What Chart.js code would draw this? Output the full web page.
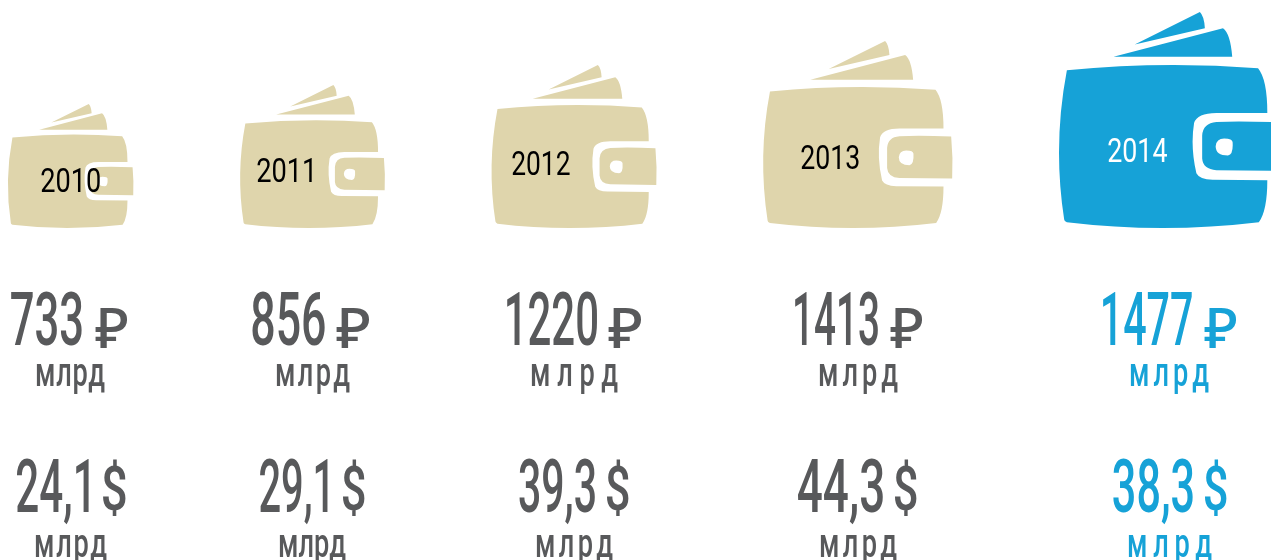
<!DOCTYPE html>
<html>
<head>
<meta charset="utf-8">
<style>
  html, body { margin: 0; padding: 0; background: #fff; overflow: hidden; }
  canvas { display: block; }
</style>
<script src="https://cdn.jsdelivr.net/npm/chart.js@4"></script>
</head>
<body>
<canvas id="walletChart" width="1271" height="560"></canvas>
<script>
// data
const years = ["2010", "2011", "2012", "2013", "2014"];
const rubValues = [733, 856, 1220, 1413, 1477];
const usdValues = [24.1, 29.1, 39.3, 44.3, 38.3];
// the icons grow by rank, not in proportion to the sums: height of each icon
const walletHeights = [124, 143, 163, 187, 216];
const unitLabel = "млрд";

// layout: ink extents [left, right] of the texts in each column
const yearX = [[41, 100], [257, 312], [512, 570], [801, 859], [1108, 1167]];
const yearBase = [192, 182, 175, 169, 162];
const rubX = [[11, 82], [252, 325], [507, 597], [795, 878], [1103, 1192]];
const rubSignX = [[95, 128], [336, 370], [608, 642], [890, 923], [1204, 1237]];
const rubUnitX = [[35, 105], [275, 350], [530, 618], [818, 898], [1129, 1209]];
const usdX = [[17, 89], [260, 328], [519, 595], [798, 883], [1113, 1193]];
const usdSignX = [[103, 126], [343, 365], [607, 629], [895, 917], [1205, 1227]];
const usdUnitX = [[34, 107], [278, 346], [535, 613], [819, 897], [1127, 1212]];

const BEIGE = "#dfd5ac";
const BLUE = "#16a2d7";
const GREY = "#58595b";
const highlightIndex = 4;
const WALLET_RATIO = 1.01;
const WALLET_GAP = 107;
const FIRST_LEFT = 8;
const BASELINE = 228;

// wallet outline, drawn in a 566x560 box
const walletBody = new Path2D(
  "M92 181 Q340 157 588 176 Q612 205 612 292 L480 292 Q430 292 422 318 Q412 380 428 448 " +
  "Q436 464 470 465 L612 466 Q612 545 590 575 Q340 605 92 575 Q85 572 85 568 Q55 375 92 181 Z " +
  "M635 316 Q540 312 480 315 Q445 318 443 350 L443 410 Q445 438 480 440 L638 442 Q641 380 635 316 Z " +
  "M478 378 Q480 358 500 358 Q522 358 522 368 Q524 400 510 402 Q478 402 478 378 Z " +
  "M268 114 L437 30 Q448 40 450 72 Z " +
  "M213 146 L497 72 Q516 85 521 146 Z"
);

function walletCenters() {
  let left = FIRST_LEFT;
  return walletHeights.map(h => {
    const w = h * WALLET_RATIO;
    const center = left + w / 2;
    left += w + WALLET_GAP;
    return center;
  });
}

// squeeze a text horizontally so that its ink spans x0..x1
function fitText(ctx, text, x0, x1, base, font, color) {
  ctx.save();
  ctx.font = font;
  ctx.fillStyle = color;
  ctx.textAlign = "left";
  ctx.textBaseline = "alphabetic";
  const m = ctx.measureText(text);
  const ink = m.actualBoundingBoxRight + m.actualBoundingBoxLeft;
  const sx = (x1 - x0) / ink;
  ctx.translate(x0 + m.actualBoundingBoxLeft * sx, base);
  ctx.scale(sx, 1);
  ctx.fillText(text, 0, 0);
  ctx.restore();
}

// fixed squeeze, the letters are spread out to fill x0..x1
function spreadText(ctx, text, x0, x1, base, font, color) {
  const sx = 0.68;
  ctx.save();
  ctx.font = font;
  ctx.fillStyle = color;
  ctx.textBaseline = "alphabetic";
  ctx.letterSpacing = "0px";
  const natural = ctx.measureText(text).width;
  const ls = ((x1 - x0) / sx - natural) / (text.length - 1);
  ctx.letterSpacing = ls.toFixed(2) + "px";
  ctx.translate(x0, base);
  ctx.scale(sx, 1);
  ctx.fillText(text, 0, 0);
  ctx.restore();
}

const walletPlugin = {
  id: "wallets",
  afterDatasetsDraw(chart) {
    const ctx = chart.ctx;
    const bars = chart.getDatasetMeta(0).data;
    bars.forEach((bar, i) => {
      const h = bar.base - bar.y;
      const w = h * WALLET_RATIO;
      const color = i === highlightIndex ? BLUE : BEIGE;
      const textColor = i === highlightIndex ? BLUE : GREY;

      ctx.save();
      ctx.translate(bar.x - w / 2, bar.y);
      ctx.scale(w / 566, h / 560);
      ctx.translate(-72, -30);
      ctx.fillStyle = color;
      ctx.fill(walletBody, "evenodd");
      ctx.restore();

      fitText(ctx, years[i], yearX[i][0], yearX[i][1], yearBase[i], "400 33px Roboto",
        i === highlightIndex ? "#ffffff" : "#000000");

      fitText(ctx, String(rubValues[i]), rubX[i][0], rubX[i][1], 345, "500 75px Roboto", textColor);
      fitText(ctx, "₽", rubSignX[i][0], rubSignX[i][1], 348, "500 56px 'Noto Sans'", textColor);
      spreadText(ctx, unitLabel, rubUnitX[i][0], rubUnitX[i][1], 386, "500 40px Roboto", textColor);

      const usd = usdValues[i].toFixed(1).replace(".", ",");
      fitText(ctx, usd, usdX[i][0], usdX[i][1], 512, "500 75px Roboto", textColor);
      fitText(ctx, "$", usdSignX[i][0], usdSignX[i][1], 510, "500 62px Roboto", textColor);
      spreadText(ctx, unitLabel, usdUnitX[i][0], usdUnitX[i][1], 557, "500 40px Roboto", textColor);
    });
  }
};

const centers = walletCenters();

new Chart(document.getElementById("walletChart").getContext("2d"), {
  type: "bar",
  data: {
    datasets: [{
      data: walletHeights.map((h, i) => ({ x: centers[i], y: h })),
      backgroundColor: "rgba(0,0,0,0)",
      barThickness: 100
    }]
  },
  plugins: [walletPlugin],
  options: {
    responsive: false,
    animation: false,
    layout: { padding: 0 },
    plugins: { legend: { display: false }, tooltip: { enabled: false } },
    scales: {
      x: { type: "linear", display: false, offset: false, min: 0, max: 1271 },
      y: { display: false, min: BASELINE - 560, max: BASELINE }
    }
  }
});
</script>
</body>
</html>
